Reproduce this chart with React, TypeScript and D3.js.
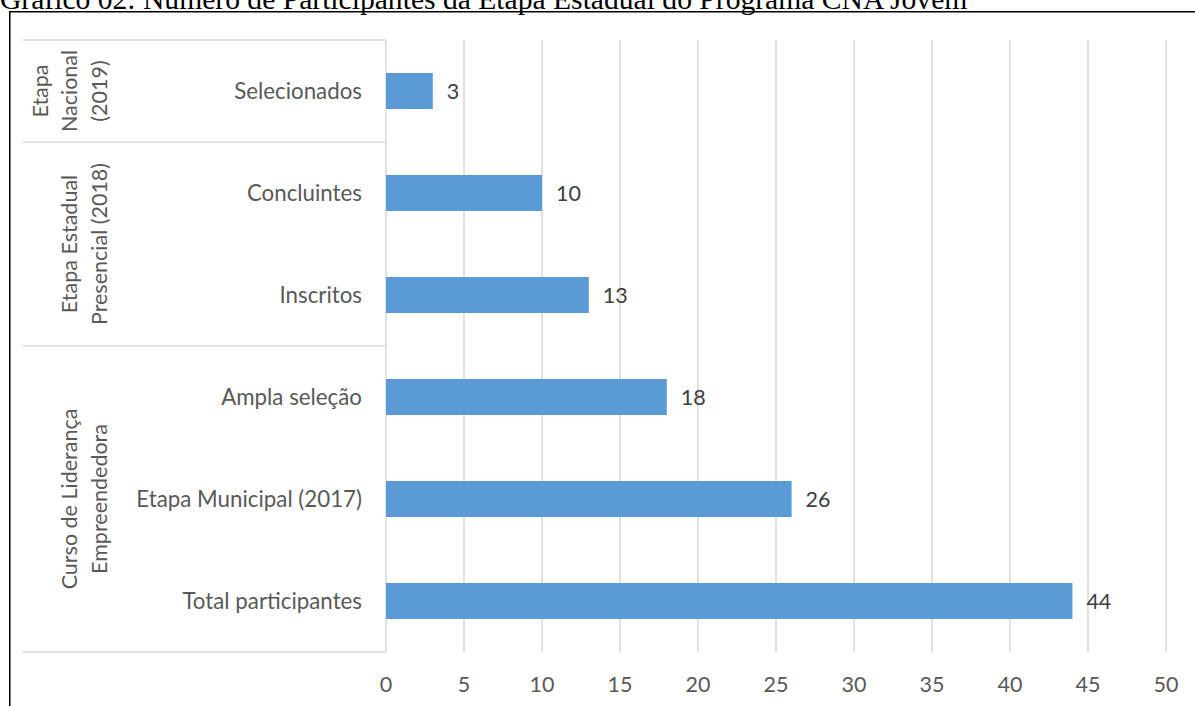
import React from "react";
import * as d3 from "d3";

const categories = [
  "Selecionados",
  "Concluintes",
  "Inscritos",
  "Ampla seleção",
  "Etapa Municipal (2017)",
  "Total participantes",
];
const values = [3, 10, 13, 18, 26, 44];
const groups = [
  { lines: ["Etapa", "Nacional", "(2019)"], from: 0, to: 0 },
  { lines: ["Etapa Estadual", "Presencial (2018)"], from: 1, to: 2 },
  { lines: ["Curso de Liderança", "Empreendedora"], from: 3, to: 5 },
];
const xTicks = [0, 5, 10, 15, 20, 25, 30, 35, 40, 45, 50];
const title = "Gráfico 02: Número de Participantes da Etapa Estadual do Programa CNA Jovem";

const W = 1195;
const H = 706;
const FONT = "Lato, 'Open Sans', sans-serif";

export default function App() {
  const x = d3.scaleLinear().domain([0, 50]).range([386, 1166]);
  const y = d3
    .scaleBand<string>()
    .domain(categories)
    .range([40, 652])
    .paddingInner(0.647)
    .paddingOuter(0.3235);
  const step = y.step();
  const top = 40;
  const bottom = 652;
  const catTop = (i: number) => top + i * step;
  const boundaries = [0, 1, 3, 6];
  const grid = "#d9d9d9";

  return (
    <svg
      width={W}
      height={H}
      style={{ position: "absolute", left: 0, top: 0, background: "#fff" }}
    >
      <text
        x={0}
        y={9}
        fontFamily="'Liberation Serif', 'Times New Roman', serif"
        fontSize={29.6}
        fill="#000"
      >
        {title}
      </text>
      <line x1={9.75} y1={11} x2={9.75} y2={H} stroke="#000" strokeWidth={1.5} />
      <line x1={9} y1={11.75} x2={W} y2={11.75} stroke="#000" strokeWidth={1.5} />

      {xTicks.map((t) => (
        <line
          key={"g" + t}
          x1={x(t)}
          x2={x(t)}
          y1={top}
          y2={bottom}
          stroke={grid}
          strokeWidth={1.5}
        />
      ))}
      {boundaries.map((b) => (
        <line
          key={"b" + b}
          x1={23}
          x2={x(0)}
          y1={catTop(b)}
          y2={catTop(b)}
          stroke={grid}
          strokeWidth={1.5}
        />
      ))}

      {categories.map((c, i) => (
        <rect
          key={"r" + c}
          x={x(0)}
          y={y(c)!}
          width={x(values[i]) - x(0)}
          height={y.bandwidth()}
          fill="#5b9bd5"
        />
      ))}
      {categories.map((c, i) => (
        <text
          key={"v" + c}
          x={x(values[i]) + 14}
          y={y(c)! + y.bandwidth() / 2}
          dy="0.35em"
          fontFamily={FONT}
          fontSize={21.5}
          fill="#404040"
        >
          {values[i]}
        </text>
      ))}
      {categories.map((c) => (
        <text
          key={"c" + c}
          x={362}
          y={y(c)! + y.bandwidth() / 2}
          dy="0.35em"
          textAnchor="end"
          fontFamily={FONT}
          fontSize={22.3}
          fill="#595959"
        >
          {c}
        </text>
      ))}
      {groups.map((g, gi) => {
        const cy = (catTop(g.from) + catTop(g.to + 1)) / 2;
        const n = g.lines.length;
        return g.lines.map((ln, li) => {
          const lx = 99 - (n - 1 - li) * 29.5;
          return (
            <text
              key={"gl" + gi + li}
              transform={`translate(${lx},${cy}) rotate(-90)`}
              textAnchor="middle"
              dy="0.35em"
              fontFamily={FONT}
              fontSize={21.5}
              fill="#595959"
            >
              {ln}
            </text>
          );
        });
      })}
      {xTicks.map((t) => (
        <text
          key={"t" + t}
          x={x(t)}
          y={684}
          dy="0.35em"
          textAnchor="middle"
          fontFamily={FONT}
          fontSize={21.5}
          fill="#595959"
        >
          {t}
        </text>
      ))}
    </svg>
  );
}
